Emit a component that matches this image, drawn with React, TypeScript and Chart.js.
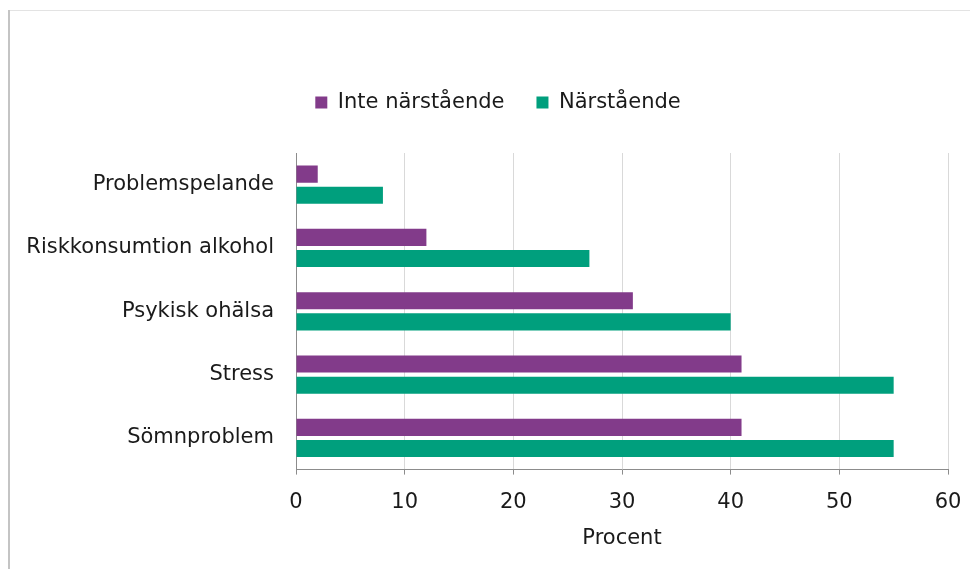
import React, { useEffect, useRef } from "react";
import { Chart, registerables } from "chart.js";

Chart.register(...registerables);

const categories = [
  "Problemspelande",
  "Riskkonsumtion alkohol",
  "Psykisk ohälsa",
  "Stress",
  "Sömnproblem",
];
const inteNarstaende = [2, 12, 31, 41, 41];
const narstaende = [8, 27, 40, 55, 55];
const seriesNames = ["Inte närstående", "Närstående"];
const xTicksMax = 60;
const xTicksStep = 10;
const xTitle = "Procent";

const FONT = "'DejaVu Sans', Verdana, sans-serif";
const FS = 21;

const framePlugin = {
  id: "frame",
  beforeInit(chart: any) {
    const legend = chart.legend;
    if (legend) {
      const orig = legend.fit;
      legend.fit = function () {
        orig.call(this);
        this.height += 30;
      };
    }
  },
  afterLayout(chart: any) {
    if (chart.legend) {
      chart.legend.left += 20;
      chart.legend.right += 20;
    }
  },
  beforeDraw(chart: any) {
    const ctx = chart.ctx;
    ctx.save();
    ctx.fillStyle = "#ffffff";
    ctx.fillRect(0, 0, chart.width, chart.height);
    ctx.fillStyle = "#e3e3e3";
    ctx.fillRect(0, 2, chart.width, 1);
    ctx.fillStyle = "#c4c4c4";
    ctx.fillRect(0, 2, 2, chart.height - 2);
    ctx.restore();
  },
};

export default function App() {
  const ref = useRef<HTMLCanvasElement | null>(null);
  useEffect(() => {
    if (!ref.current) return;
    const chart = new Chart(ref.current, {
      type: "bar",
      data: {
        labels: categories,
        datasets: [
          {
            label: seriesNames[0],
            data: inteNarstaende,
            backgroundColor: "#823b8a",
            categoryPercentage: 0.667,
            barPercentage: 0.81,
          },
          {
            label: seriesNames[1],
            data: narstaende,
            backgroundColor: "#009f7d",
            categoryPercentage: 0.667,
            barPercentage: 0.81,
          },
        ],
      },
      options: {
        indexAxis: "y",
        animation: false,
        responsive: false,
        maintainAspectRatio: false,
        layout: { padding: { top: 52, right: 30, bottom: 14, left: 0 } },
        plugins: {
          legend: {
            position: "top",
            labels: {
              boxWidth: 12,
              boxHeight: 12,
              padding: 32,
              color: "#1a1a1a",
              font: { family: FONT, size: FS },
            },
          },
          tooltip: { enabled: false },
        },
        scales: {
          x: {
            min: 0,
            max: xTicksMax,
            ticks: {
              stepSize: xTicksStep,
              padding: 15,
              color: "#1a1a1a",
              font: { family: FONT, size: FS },
            },
            grid: {
              color: "#d9d9d9",
              tickColor: "#8c8c8c",
              tickLength: 5,
            },
            border: { color: "#8c8c8c", width: 1 },
            title: {
              display: true,
              text: xTitle,
              color: "#1a1a1a",
              font: { family: FONT, size: FS },
              padding: { top: -4, bottom: 4 },
            },
          },
          y: {
            ticks: {
              padding: 22,
              color: "#1a1a1a",
              font: { family: FONT, size: FS },
            },
            grid: { display: false, drawTicks: false },
            border: { color: "#8c8c8c", width: 1 },
            afterFit(scale: any) {
              scale.width = 288;
            },
          },
        },
      },
      plugins: [framePlugin],
    } as any);
    return () => chart.destroy();
  }, []);
  return (
    <div style={{ width: 970, height: 561 }}>
      <canvas ref={ref} width={970} height={561} style={{ display: "block" }} />
    </div>
  );
}
